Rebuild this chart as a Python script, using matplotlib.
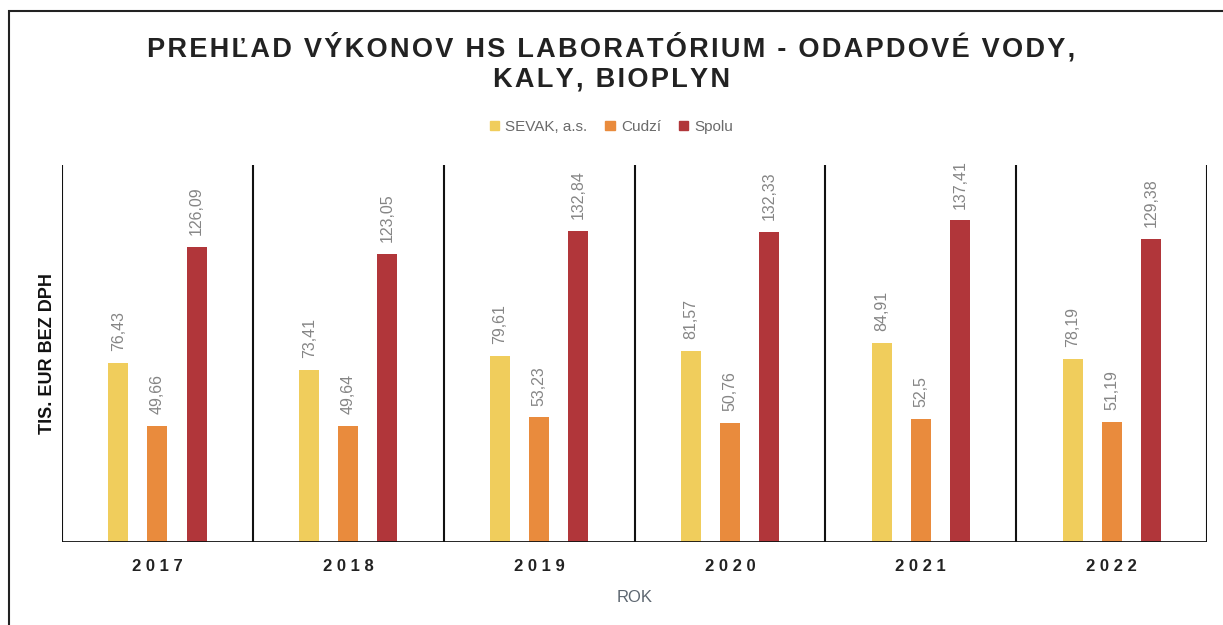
import matplotlib.pyplot as plt
from matplotlib.patches import Rectangle, Patch
import numpy as np

years = ['2017', '2018', '2019', '2020', '2021', '2022']
sevak = [76.43, 73.41, 79.61, 81.57, 84.91, 78.19]
cudzi = [49.66, 49.64, 53.23, 50.76, 52.5, 51.19]
spolu = [126.09, 123.05, 132.84, 132.33, 137.41, 129.38]
labels = ['SEVAK, a.s.', 'Cudzí', 'Spolu']
colors = ['#F0CD5C', '#E98B3D', '#B1363A']

plt.rcParams['font.family'] = ['Liberation Sans', 'DejaVu Sans']

fig = plt.figure(figsize=(12.23, 6.25), dpi=100)
ax = fig.add_axes([0.0507, 0.133, 0.9363, 0.603])

# frame around the page (scan cut off right and bottom)
fig.patches.append(Rectangle((9 / 1223, -0.1), 1.2, 1 - 11 / 625 + 0.1,
                             transform=fig.transFigure, fill=False,
                             edgecolor='#222222', linewidth=1.5))

x = np.arange(len(years))
w = 0.105
step = 0.205
for i, (vals, c) in enumerate(zip([sevak, cudzi, spolu], colors)):
    bars = ax.bar(x + (i - 1) * step, vals, width=w, color=c, label=labels[i])
    for b, v in zip(bars, vals):
        ax.text(b.get_x() + b.get_width() / 2, v + 5, f'{v:g}'.replace('.', ','),
                rotation=90, ha='center', va='bottom', fontsize=11.5, color='#858585')

ax.set_xlim(-0.5, len(years) - 0.5)
ax.set_ylim(0, 161)
for b in np.arange(-0.5, len(years), 1):
    ax.axvline(b, color='#111111', linewidth=1.5)
ax.axhline(0, color='#111111', linewidth=2)
for s in ax.spines.values():
    s.set_visible(False)
ax.set_yticks([])
ax.set_xticks(x)
ax.set_xticklabels([' '.join(y) for y in years], fontsize=12, fontweight='bold', color='#222222')
ax.tick_params(axis='x', length=0, pad=12)
ax.set_xlabel('ROK', fontsize=12, color='#5d6670', labelpad=12)
ax.set_ylabel('TIS. EUR BEZ DPH', fontsize=13, fontweight='bold', color='#111111', labelpad=4)


def spaced(s):
    return '\u200a'.join(s)


title = spaced('PREHĽAD VÝKONOV HS LABORATÓRIUM - ODAPDOVÉ VODY,') + '\n' + spaced('KALY, BIOPLYN')
fig.text(0.5, 0.9, title, ha='center', va='center', fontsize=19.5, fontweight='bold',
         color='#222222', linespacing=1.22)

handles = [Patch(color=c) for c in colors]
fig.legend(handles, labels, loc='center', bbox_to_anchor=(0.5, 0.797), ncol=3,
           frameon=False, fontsize=11, handlelength=0.6, handleheight=0.6,
           handletextpad=0.4, columnspacing=1.2, labelcolor='#6a6a6a')

fig.savefig('out.png', dpi=100)
